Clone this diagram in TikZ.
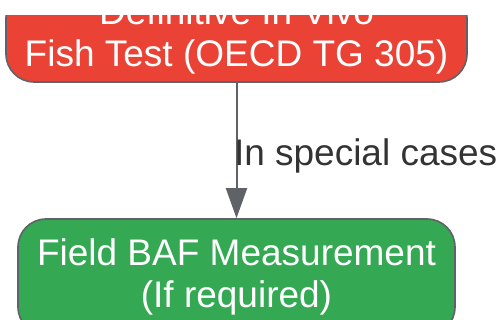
\documentclass[tikz,border=0pt]{standalone}
\usepackage{fontspec}
\setmainfont{Liberation Sans}
\usetikzlibrary{arrows.meta}
\definecolor{gred}{HTML}{EA4335}
\definecolor{ggreen}{HTML}{34A853}
\definecolor{edgegray}{HTML}{5F6368}
\definecolor{labelgray}{HTML}{333333}
\tikzset{
  flowbox/.style={draw=edgegray, line width=1.6pt, rounded corners=28pt,
    text=white, align=center, inner sep=0pt,
    font=\fontsize{37}{42.5}\selectfont},
  flowedge/.style={draw=edgegray, line width=2pt,
    -{Triangle[length=30pt,width=21pt]}},
  edgelabel/.style={text=labelgray, inner sep=0pt,
    font=\fontsize{37}{42.5}\selectfont}
}
\begin{document}
\begin{tikzpicture}[x=1pt,y=1pt]
\useasboundingbox (0,0) rectangle (497,-320);
\begin{scope}
\clip (0,-16) rectangle (497,-330);
\node[flowbox, fill=gred, minimum width=461pt, minimum height=92pt] (red) at (236.5,-36)
  {Definitive In Vivo\\Fish Test (OECD TG 305)};
\node[flowbox, fill=ggreen, minimum width=437pt, minimum height=116pt] (green) at (236.5,-277)
  {Field BAF Measurement\\(If required)};
\draw[flowedge] (red) -- (green)
  node[midway, edgelabel, anchor=base west, xshift=-3.5pt, yshift=-15pt] (lbl) {In special cases};
\end{scope}
\end{tikzpicture}
\end{document}
